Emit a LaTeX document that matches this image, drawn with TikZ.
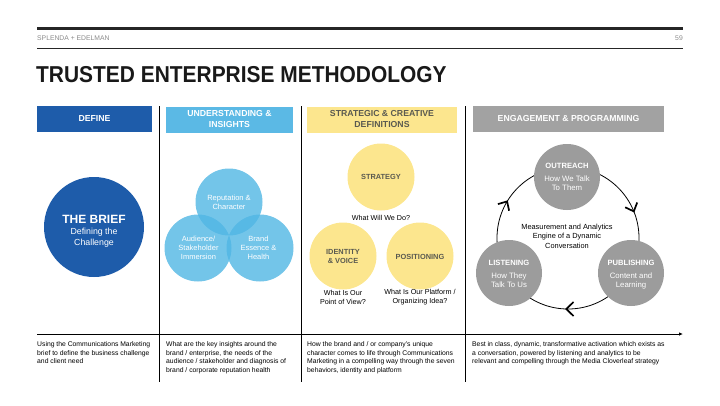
\documentclass[tikz,border=0pt]{standalone}
\usepackage{fontspec}
\setmainfont{Liberation Sans}
\usetikzlibrary{arrows.meta}
\definecolor{dblue}{HTML}{1E5CAA}
\definecolor{lblue}{HTML}{5BB9E5}
\definecolor{vblue}{HTML}{50B6E4}
\definecolor{ylw}{HTML}{FCE68E}
\definecolor{hgry}{HTML}{A2A2A2}
\definecolor{cgry}{HTML}{9C9C9C}
\definecolor{ytext}{HTML}{5A5A50}
\definecolor{smallgray}{HTML}{8A8A8A}
\begin{document}
\begin{tikzpicture}[x=1pt,y=-1pt,
  hdr/.style={minimum height=26pt,inner sep=0pt,align=center,text=white,
    font=\fontsize{8.7}{11}\selectfont\bfseries},
  para/.style={anchor=north west,inner sep=0pt,align=left,
    font=\fontsize{6.8}{8.6}\selectfont},
  vline/.style={line width=0.8pt,black},
  bubble/.style={circle,inner sep=0pt,align=center},
  vtxt/.style={font=\fontsize{7.5}{9}\selectfont,text=white,align=center,inner sep=0pt},
  ytxt/.style={font=\fontsize{7.4}{9}\selectfont\bfseries,text=ytext,align=center,inner sep=0pt},
  captxt/.style={font=\fontsize{7.2}{9}\selectfont,align=center,inner sep=0pt},
  gtitle/.style={font=\fontsize{7.6}{9}\selectfont\bfseries,text=white,inner sep=0pt},
  gsub/.style={font=\fontsize{7.8}{9}\selectfont,text=white,align=center,inner sep=0pt},
  cycline/.style={line width=0.8pt},
  chevron/.style={line width=1.7pt,line join=miter,line cap=butt}
]
\useasboundingbox (0,0) rectangle (720,405);

% top rules
\coordinate (t1a) at (37,28.5); \coordinate (t1b) at (683,28.5);
\draw[line width=3pt,black!85] (t1a) -- (t1b);
\coordinate (t2a) at (37,48); \coordinate (t2b) at (683,48);
\draw[line width=0.7pt,black!85] (t2a) -- (t2b);
\node[anchor=west,inner sep=0pt,text=smallgray,font=\fontsize{6.8}{7}\selectfont] (brand) at (37,38.5) {SPLENDA + EDELMAN};
\node[anchor=east,inner sep=0pt,text=smallgray,font=\fontsize{6.8}{7}\selectfont] (page) at (683,38.5) {59};

% title
\node[anchor=base west,inner sep=0pt,text=black!90,font=\fontsize{23}{26}\selectfont\bfseries] (title) at (36,82.5)
  {\scalebox{0.91}[1]{TRUSTED ENTERPRISE METHODOLOGY}};

% headers
\node[hdr,fill=dblue,minimum width=115pt] (h1) at (94.5,119) {DEFINE};
\node[hdr,fill=lblue,minimum width=127pt] (h2) at (229.5,119.5) {UNDERSTANDING \&\\INSIGHTS};
\node[hdr,fill=ylw,minimum width=150pt,text=ytext] (h3) at (382,119.5) {STRATEGIC \& CREATIVE\\DEFINITIONS};
\node[hdr,fill=hgry,minimum width=191pt] (h4) at (568.5,119) {ENGAGEMENT \& PROGRAMMING};

% vertical separators
\foreach \n/\x in {1/159,2/301,3/465}{
  \coordinate (v\n t) at (\x,106); \coordinate (v\n b) at (\x,382);
  \draw[vline] (v\n t) -- (v\n b);
}

% axis
\coordinate (ax0) at (37,334); \coordinate (ax1) at (683,334);
\draw[line width=0.8pt,-{Latex[length=4pt,width=3.5pt]}] (ax0) -- (ax1);

% column 1: brief
\node[bubble,fill=dblue,minimum size=100pt] (brief) at (94,227) {};
\node[inner sep=0pt,text=white,font=\fontsize{12}{13}\selectfont\bfseries] (brieft) at (94,219) {THE BRIEF};
\node[inner sep=0pt,text=white,align=center,font=\fontsize{8.8}{11}\selectfont] (briefs) at (94,237.5) {Defining the\\Challenge};

% column 2: venn
\begin{scope}[fill opacity=0.8]
\fill[vblue] (229,202) circle[radius=33.5];
\fill[vblue] (198,248) circle[radius=33.5];
\fill[vblue] (260,248) circle[radius=33.5];
\end{scope}
\node[bubble,minimum size=67pt] (rep) at (229,202) {};
\node[bubble,minimum size=67pt] (aud) at (198,248) {};
\node[bubble,minimum size=67pt] (brd) at (260,248) {};
\node[vtxt] (rept) at (229,202) {Reputation \&\\Character};
\node[vtxt] (audt) at (198.5,248) {Audience/\\Stakeholder\\Immersion};
\node[vtxt] (brdt) at (258.5,248) {Brand\\Essence \&\\Health};

% column 3: yellow circles
\node[bubble,fill=ylw,minimum size=67pt] (strat) at (381,177) {};
\node[ytxt] (stratt) at (381,177) {STRATEGY};
\node[captxt] (stratc) at (381,218) {What Will We Do?};
\node[bubble,fill=ylw,minimum size=67pt] (ident) at (343,256) {};
\node[ytxt] (identt) at (343,256.5) {IDENTITY\\\& VOICE};
\node[captxt] (identc) at (343,297.5) {What Is Our\\Point of View?};
\node[bubble,fill=ylw,minimum size=67pt] (posit) at (420,256) {};
\node[ytxt] (positt) at (420,257) {POSITIONING};
\node[captxt] (positc) at (420,297.5) {What Is Our Platform /\\Organizing Idea?};

% column 4: cycle
\coordinate (cc) at (568,238);
\draw[cycline] (cc) circle[radius=71];
% chevrons on the cycle (clockwise)
\coordinate (c1a) at (497.9,204.1); \coordinate (c1t) at (507.1,201.4); \coordinate (c1b) at (509.1,210.7);
\draw[chevron] (c1a) -- (c1t) -- (c1b);
\coordinate (c2a) at (625.2,207.3); \coordinate (c2t) at (633.8,211.4); \coordinate (c2b) at (637.2,202.5);
\draw[chevron] (c2a) -- (c2t) -- (c2b);
\coordinate (c3a) at (573.5,302.0); \coordinate (c3t) at (566.3,309.0); \coordinate (c3b) at (573.5,316.0);
\draw[chevron] (c3a) -- (c3t) -- (c3b);
\node[bubble,fill=cgry,minimum size=66pt] (out) at (567,177) {};
\node[bubble,fill=cgry,minimum size=66pt] (lis) at (509,273) {};
\node[bubble,fill=cgry,minimum size=66pt] (pub) at (631,273) {};
\node[gtitle] (outt) at (567,166) {OUTREACH};
\node[gsub] (outs) at (567,183.5) {How We Talk\\To Them};
\node[gtitle] (list) at (509,263) {LISTENING};
\node[gsub] (liss) at (509,280.5) {How They\\Talk To Us};
\node[gtitle] (pubt) at (631,263) {PUBLISHING};
\node[gsub] (pubs) at (631,280.5) {Content and\\Learning};
\node[captxt,font=\fontsize{7.4}{9.5}\selectfont] (eng) at (567,236) {Measurement and Analytics\\Engine of a Dynamic\\Conversation};

% bottom paragraphs
\node[para] (p1) at (37,341.5) {Using the Communications Marketing\\brief to define the business challenge\\and client need};
\node[para] (p2) at (166,341.5) {What are the key insights around the\\brand / enterprise, the needs of the\\audience / stakeholder and diagnosis of\\brand / corporate reputation health};
\node[para] (p3) at (307,341.5) {How the brand and / or company's unique\\character comes to life through Communications\\Marketing in a compelling way through the seven\\behaviors, identity and platform};
\node[para] (p4) at (472,341.5) {Best in class, dynamic, transformative activation which exists as\\a conversation, powered by listening and analytics to be\\relevant and compelling through the Media Cloverleaf strategy};
\end{tikzpicture}
\end{document}
